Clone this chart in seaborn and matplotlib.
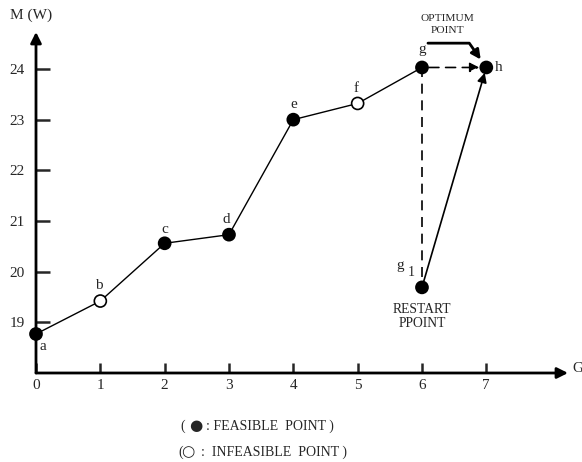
import matplotlib.pyplot as plt
import seaborn as sns
import pandas as pd

# search path a..g, power
labels = ["a", "b", "c", "d", "e", "f", "g"]
generation = [0, 1, 2, 3, 4, 5, 6]
power = [18.77, 19.42, 20.56, 20.73, 23.0, 23.32, 24.03]
feasible = [True, False, True, True, True, False, True]

restart_pt = (6, 19.69)   # g1
optimum_pt = (7, 24.03)   # h

x_ticks = [0, 1, 2, 3, 4, 5, 6, 7]
y_ticks = [19, 20, 21, 22, 23, 24]

sns.set_style("white")
plt.rcParams["font.family"] = ["Liberation Serif", "DejaVu Sans"]

fig = plt.figure(figsize=(5.82, 4.62), dpi=100)
ax = fig.add_axes([36 / 582, 89 / 462, 532 / 582, 341 / 462])
ax.set_xlim(0, 8.27)
ax.set_ylim(18, 24.73)

df = pd.DataFrame({"G": generation, "M": power, "feasible": feasible, "label": labels})
sns.lineplot(data=df, x="G", y="M", sort=False, color="black", lw=1.0, ax=ax)

# g -> g1 dashed drop, g -> h dashed arrow, g1 -> h solid arrow
g = (generation[-1], power[-1])
ax.plot([g[0], restart_pt[0]], [g[1], restart_pt[1]], color="black", lw=1.2, ls=(0, (6, 4)))
ax.annotate("", xy=optimum_pt, xytext=g,
            arrowprops=dict(arrowstyle="-|>", color="black", lw=1.2, ls=(0, (6, 4)),
                            shrinkA=5, shrinkB=5, mutation_scale=14))
ax.annotate("", xy=optimum_pt, xytext=restart_pt,
            arrowprops=dict(arrowstyle="-|>", color="black", lw=1.2,
                            shrinkA=4, shrinkB=4, mutation_scale=14))

pts = pd.concat([df[["G", "M", "feasible"]],
                 pd.DataFrame({"G": [restart_pt[0], optimum_pt[0]],
                               "M": [restart_pt[1], optimum_pt[1]],
                               "feasible": [True, True]})], ignore_index=True)
sns.scatterplot(data=pts, x="G", y="M", hue="feasible", palette={True: "black", False: "white"},
                edgecolor="black", linewidth=1.2, s=75, legend=False, zorder=5, clip_on=False, ax=ax)

# point letters
offs = {"a": (5, -9), "b": (-1, 11), "c": (0, 10), "d": (-2, 11), "e": (0, 11), "f": (-1, 11), "g": (0, 13)}
for lab, x, y in zip(labels, generation, power):
    ax.annotate(lab, (x, y), xytext=offs[lab], textcoords="offset points",
                ha="center", va="center", fontsize=11)
ax.annotate("h", optimum_pt, xytext=(6, 0), textcoords="offset points", ha="left", va="center", fontsize=11)
ax.annotate("g", restart_pt, xytext=(-16, 16), textcoords="offset points", ha="center", va="center", fontsize=11)
ax.annotate("1", restart_pt, xytext=(-8, 11), textcoords="offset points", ha="center", va="center", fontsize=10)
ax.annotate("RESTART\nPPOINT", restart_pt, xytext=(0, -21), textcoords="offset points",
            ha="center", va="center", fontsize=9.8, linespacing=1.05)
ax.annotate("OPTIMUM\nPOINT", optimum_pt, xytext=(-28, 31), textcoords="offset points",
            ha="center", va="center", fontsize=8.2, linespacing=1.5)
ax.annotate("", xy=optimum_pt, xytext=(-42, 17.5), textcoords="offset points",
            arrowprops=dict(arrowstyle="-|>", color="black", lw=2,
                            connectionstyle="angle,angleA=0,angleB=125,rad=0",
                            shrinkA=0, shrinkB=7, mutation_scale=14))

# axes drawn as arrows
for s in ax.spines.values():
    s.set_visible(False)
ax.annotate("", xy=(8.27, 18), xytext=(0, 18), annotation_clip=False,
            arrowprops=dict(arrowstyle="-|>", color="black", lw=2, shrinkA=0, shrinkB=0, mutation_scale=16))
ax.annotate("", xy=(0, 24.73), xytext=(0, 18), annotation_clip=False,
            arrowprops=dict(arrowstyle="-|>", color="black", lw=2, shrinkA=0, shrinkB=0, mutation_scale=16))

ax.set_xticks(x_ticks)
ax.set_yticks(y_ticks)
ax.tick_params(axis="x", direction="in", length=7, width=1.8, pad=4, labelsize=11, bottom=True)
ax.tick_params(axis="y", direction="in", length=10, width=1.8, pad=8, labelsize=11, left=True)
ax.set_xlabel("")
ax.set_ylabel("")

fig.text(31 / 582, 1 - 15 / 462, "M (W)", ha="center", va="center", fontsize=11)
fig.text(572 / 582, 1 - 369 / 462, "G", ha="left", va="center", fontsize=11)

# key under the chart
fig.text(180 / 582, 1 - 426 / 462, "(", ha="left", va="center", fontsize=10)
fig.text(196 / 582, 1 - 426 / 462, "\u25cf", ha="center", va="center", fontsize=11, family="DejaVu Sans")
fig.text(206 / 582, 1 - 426 / 462, ": FEASIBLE  POINT )", ha="left", va="center", fontsize=10)
fig.text(178 / 582, 1 - 452 / 462, "(", ha="left", va="center", fontsize=10)
fig.text(188 / 582, 1 - 452 / 462, "\u25cb", ha="center", va="center", fontsize=11, family="DejaVu Sans")
fig.text(201 / 582, 1 - 452 / 462, ":  INFEASIBLE  POINT )", ha="left", va="center", fontsize=10)

fig.savefig("out.png", dpi=100)
